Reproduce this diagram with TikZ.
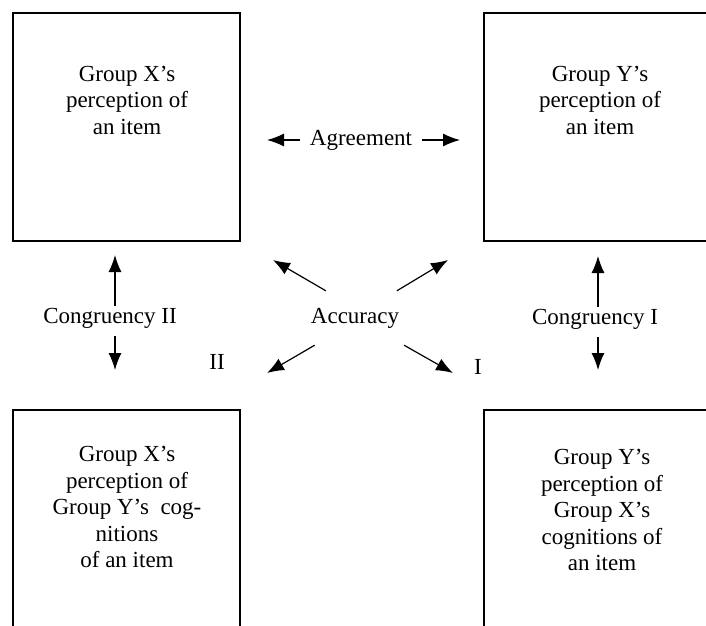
\documentclass[tikz,border=0pt]{standalone}
\usepackage{fontspec}
\setmainfont{Liberation Serif}
\usetikzlibrary{arrows.meta}
\begin{document}
\begin{tikzpicture}[x=1pt,y=-1pt,
  box/.style={draw=black, line width=2pt, inner sep=0pt},
  boxtext/.style={align=center, font=\fontsize{23}{26.5}\selectfont, inner sep=0pt},
  lbl/.style={fill=white, font=\fontsize{23}{26.5}\selectfont, inner sep=0pt},
  arr/.style={line width=1.2pt, -{Latex[length=17pt,width=13pt]}}]
\useasboundingbox (0,0) rectangle (706,625);
\fill[white] (0,0) rectangle (706,625);
\clip (0,0) rectangle (706,625);
% boxes
\node[box, minimum width=227pt, minimum height=228pt] (tl) at (126.5,127) {};
\node[box, minimum width=240pt, minimum height=228pt] (tr) at (604,127) {};
\node[box, minimum width=227pt, minimum height=240pt] (bl) at (126.5,530) {};
\node[box, minimum width=240pt, minimum height=240pt] (br) at (604,530) {};
% box texts
\node[boxtext] (tltext) at (127,100) {Group X’s\\perception of\\an item};
\node[boxtext] (trtext) at (600,100) {Group Y’s\\perception of\\an item};
\node[boxtext] (bltext) at (127,507) {Group X’s\\perception of\\Group Y’s \ cog-\\nitions\\of an item};
\node[boxtext] (brtext) at (602,510) {Group Y’s\\perception of\\Group X’s\\cognitions of\\an item};
% labels
\node[lbl, minimum width=122pt, minimum height=30pt] (agr) at (361,140) {Agreement};
\node[lbl, minimum width=100pt, minimum height=54pt] (acc) at (355,318) {Accuracy};
\node[lbl, minimum height=30pt] (cong2) at (110,318) {Congruency II};
\node[lbl, minimum height=30pt] (cong1) at (595,319) {Congruency I};
\node[lbl] (two) at (217,362) {II};
\node[lbl] (one) at (478,367) {I};
% arrow tips
\coordinate (agl) at (267,140);
\coordinate (agr2) at (460,140);
\coordinate (aul) at (273,260);
\coordinate (aur) at (448,260);
\coordinate (all) at (267,373);
\coordinate (alr) at (453,373);
\coordinate (c2u) at (115,255);
\coordinate (c2d) at (115,370);
\coordinate (c1u) at (598,256);
\coordinate (c1d) at (598,370);
% arrows
\draw[arr] (agr.west) -- (agl);
\draw[arr] (agr.east) -- (agr2);
\draw[arr] (acc.137) -- (aul);
\draw[arr] (acc.33) -- (aur);
\draw[arr] (acc.214) -- (all);
\draw[arr] (acc.331) -- (alr);
\draw[arr] ([yshift=-3pt]cong2.north -| c2u) -- (c2u);
\draw[arr] ([yshift=-3pt]cong2.south -| c2d) -- (c2d);
\draw[arr] ([yshift=-3pt]cong1.north -| c1u) -- (c1u);
\draw[arr] ([yshift=-3pt]cong1.south -| c1d) -- (c1d);
\end{tikzpicture}
\end{document}
